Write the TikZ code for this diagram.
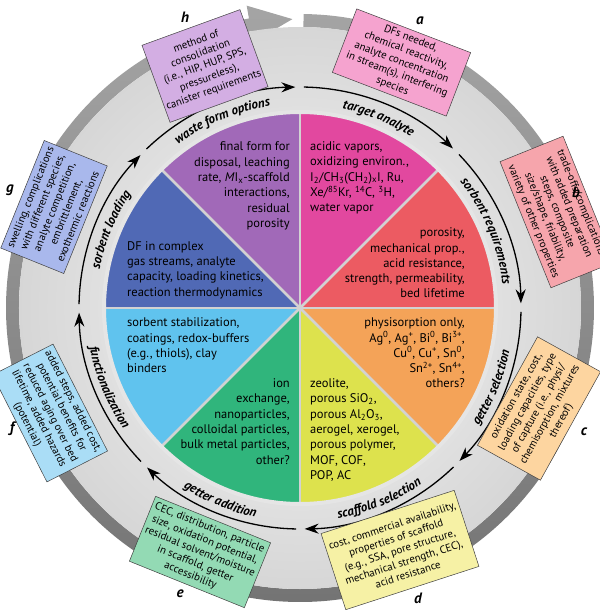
\documentclass[tikz,border=0pt]{standalone}
\usepackage{fontspec}
\setmainfont{PT Sans}
\usetikzlibrary{arrows.meta,decorations.text}

\definecolor{ringdark}{HTML}{8E8E8E}
\definecolor{ringdeep}{HTML}{737373}
\definecolor{secpink}{HTML}{E2489F}
\definecolor{secred}{HTML}{EC5B62}
\definecolor{secorange}{HTML}{F4A358}
\definecolor{secyellow}{HTML}{DDE24D}
\definecolor{secgreen}{HTML}{30B57C}
\definecolor{seclblue}{HTML}{60C3EE}
\definecolor{secblue}{HTML}{5069B5}
\definecolor{secpurple}{HTML}{A169B8}
\definecolor{boxa}{HTML}{F5A3CF}
\definecolor{boxb}{HTML}{F6A5AC}
\definecolor{boxc}{HTML}{FDD5A0}
\definecolor{boxd}{HTML}{F6F1A5}
\definecolor{boxe}{HTML}{93DAB4}
\definecolor{boxf}{HTML}{AADDF6}
\definecolor{boxg}{HTML}{A9B8EC}
\definecolor{boxh}{HTML}{D3AEE3}

\newcommand\arcfont{\fontsize{13}{14}\selectfont\bfseries\itshape}

\tikzset{
  divider/.style={draw=gray!35, line width=2.5pt},
  pierim/.style={draw=gray!20, line width=4pt},
  pietext/.style={font=\fontsize{12.5}{15.3}\selectfont, inner sep=0pt},
  flowarc/.style={line width=1.3pt, -{Stealth[length=14pt,width=10pt]}},
  notebox/.style={draw=black!75, line width=0.5pt, align=center, inner sep=2pt,
    font=\fontsize{10.8}{12.8}\selectfont},
  boxletter/.style={font=\fontsize{15}{15}\selectfont\bfseries\itshape, inner sep=0pt},
}

\begin{document}
\begin{tikzpicture}[x=1pt,y=1pt]
\useasboundingbox (-300,-303) rectangle (300,308);
\clip (-300,-303) rectangle (300,308);

\shade[top color=ringdark!80, bottom color=ringdeep] (89.3:294) arc[start angle=89.3, end angle=-260, radius=294]
  -- (100:307) -- (91.5:289) -- (100:270) -- (100:281)
  arc[start angle=100, end angle=449.3, radius=281] -- cycle;
\shade[inner color=gray!6, outer color=gray!32] (0,0) circle (281);

\fill[secpink] (0,0) -- (90:195) arc[start angle=90, end angle=45, radius=195] -- cycle;
\fill[secred] (0,0) -- (45:195) arc[start angle=45, end angle=0, radius=195] -- cycle;
\fill[secorange] (0,0) -- (0:195) arc[start angle=0, end angle=-45, radius=195] -- cycle;
\fill[secyellow] (0,0) -- (-45:195) arc[start angle=-45, end angle=-90, radius=195] -- cycle;
\fill[secgreen] (0,0) -- (-90:195) arc[start angle=-90, end angle=-135, radius=195] -- cycle;
\fill[seclblue] (0,0) -- (-135:195) arc[start angle=-135, end angle=-180, radius=195] -- cycle;
\fill[secblue] (0,0) -- (180:195) arc[start angle=180, end angle=135, radius=195] -- cycle;
\fill[secpurple] (0,0) -- (135:195) arc[start angle=135, end angle=90, radius=195] -- cycle;
\foreach \a in {0,45,...,315}
  \draw[divider] (0,0) -- (\a:195);
\draw[pierim] (0,0) circle (196);

\node[pietext, anchor=east, align=right] (wasteform) at (-10,122)
  {final form for\\disposal, leaching\\rate, \textit{M}I\textsubscript{x}-scaffold\\interactions,\\residual\\porosity};
\node[pietext, anchor=west, align=left] (analyte) at (10,130)
  {acidic vapors,\\oxidizing environ.,\\I\textsubscript{2}/CH\textsubscript{3}(CH\textsubscript{2})\textsubscript{x}I, Ru,\\Xe/\textsuperscript{85}Kr, \textsuperscript{14}C, \textsuperscript{3}H,\\water vapor};
\node[pietext, anchor=east, align=right] (requirements) at (165,45)
  {porosity,\\mechanical prop.,\\acid resistance,\\strength, permeability,\\bed lifetime};
\node[pietext, anchor=east, align=right] (getters) at (165,-45)
  {physisorption only,\\Ag\textsuperscript{0}, Ag\textsuperscript{+}, Bi\textsuperscript{0}, Bi\textsuperscript{3+},\\Cu\textsuperscript{0}, Cu\textsuperscript{+}, Sn\textsuperscript{0},\\Sn\textsuperscript{2+}, Sn\textsuperscript{4+},\\others?};
\node[pietext, anchor=west, align=left] (scaffolds) at (10,-122)
  {zeolite,\\porous SiO\textsubscript{2},\\porous Al\textsubscript{2}O\textsubscript{3},\\aerogel, xerogel,\\porous polymer,\\MOF, COF,\\POP, AC};
\node[pietext, anchor=east, align=right] (addition) at (-10,-113.5)
  {ion\\exchange,\\nanoparticles,\\colloidal particles,\\bulk metal particles,\\other?};
\node[pietext, anchor=west, align=left] (function) at (-173,-37.5)
  {sorbent stabilization,\\coatings, redox-buffers\\(e.g., thiols), clay\\binders};
\node[pietext, anchor=west, align=left] (loading) at (-173,38)
  {DF in complex\\gas streams, analyte\\capacity, loading kinetics,\\reaction thermodynamics};

\foreach \k in {0,...,7}
  \draw[flowarc] ({45*\k+44}:221) arc[start angle={45*\k+44}, end angle={45*\k+1.2}, radius=221];

\path[decorate, decoration={text along path, text align=center, text={|\arcfont|waste form options}}]
  (134.5:204) arc[start angle=134.5, end angle=90.5, radius=204];
\path[decorate, decoration={text along path, text align=center, text={|\arcfont|target analyte}}]
  (89.5:204) arc[start angle=89.5, end angle=45.5, radius=204];
\path[decorate, decoration={text along path, text align=center, text={|\arcfont|sorbent requirements}}]
  (44.5:204) arc[start angle=44.5, end angle=0.5, radius=204];
\path[decorate, decoration={text along path, text align=center, text={|\arcfont|sorbent loading}}]
  (179.5:204) arc[start angle=179.5, end angle=135.5, radius=204];
\path[decorate, decoration={text along path, text align=center, text={|\arcfont|getter selection}}]
  (-44.5:214) arc[start angle=-44.5, end angle=-0.5, radius=214];
\path[decorate, decoration={text along path, text align=center, text={|\arcfont|scaffold selection}}]
  (-89.5:214) arc[start angle=-89.5, end angle=-45.5, radius=214];
\path[decorate, decoration={text along path, text align=center, text={|\arcfont|getter addition}}]
  (-134.5:214) arc[start angle=-134.5, end angle=-90.5, radius=214];
\path[decorate, decoration={text along path, text align=center, text={|\arcfont|functionalization}}]
  (-179.5:214) arc[start angle=-179.5, end angle=-135.5, radius=214];

\node[notebox, fill=boxa, rotate=-21, minimum width=122pt, minimum height=68pt] (notea) at (101.5,245.5)
  {DFs needed,\\chemical reactivity,\\analyte concentration\\in stream(s), interfering\\species};
\node[notebox, fill=boxb, rotate=-68, minimum width=136pt, minimum height=68pt] (noteb) at (257,96)
  {trade-offs/complications\\with added preparation\\steps, composite\\size/shape, friability,\\variety of other properties};
\node[notebox, fill=boxc, rotate=61, minimum width=124pt, minimum height=72pt] (notec) at (239,-100.5)
  {oxidation state, cost,\\loading capacities, type\\of capture (i.e., physi/\\chemisorption, mixtures\\thereof)};
\node[notebox, fill=boxd, rotate=18, minimum width=140pt, minimum height=80pt] (noted) at (100,-242)
  {cost, commercial availability,\\properties of scaffold\\(e.g., SSA, pore structure,\\mechanical strength, CEC),\\acid resistance};
\node[notebox, fill=boxe, rotate=-22, minimum width=124pt, minimum height=70pt] (notee) at (-100,-244)
  {CEC, distribution, particle\\size, oxidation potential,\\residual solvent/moisture\\in scaffold, getter\\accessibility};
\node[notebox, fill=boxf, rotate=-63, minimum width=120pt, minimum height=68pt] (notef) at (-250,-105)
  {added steps, added cost,\\potential benefits for\\reduced aging over bed\\lifetime, added hazards\\(potential)};
\node[notebox, fill=boxg, rotate=68, minimum width=116pt, minimum height=68pt] (noteg) at (-246,101)
  {swelling, complications\\with different species,\\analyte competition,\\embrittlement,\\exothermic reactions};
\node[notebox, fill=boxh, rotate=20, minimum width=104pt, minimum height=82pt] (noteh) at (-95,242)
  {method of\\consolidation\\(i.e., HIP, HUP, SPS,\\pressureless),\\canister requirements};

\node[boxletter] (la) at (120,287) {a};
\node[boxletter] (lb) at (276,116) {b};
\node[boxletter] (lc) at (284,-124) {c};
\node[boxletter] (ld) at (118,-290) {d};
\node[boxletter] (le) at (-120,-286) {e};
\node[boxletter] (lf) at (-288,-121) {f};
\node[boxletter] (lg) at (-290,118) {g};
\node[boxletter] (lh) at (-115,291) {h};
\end{tikzpicture}
\end{document}
